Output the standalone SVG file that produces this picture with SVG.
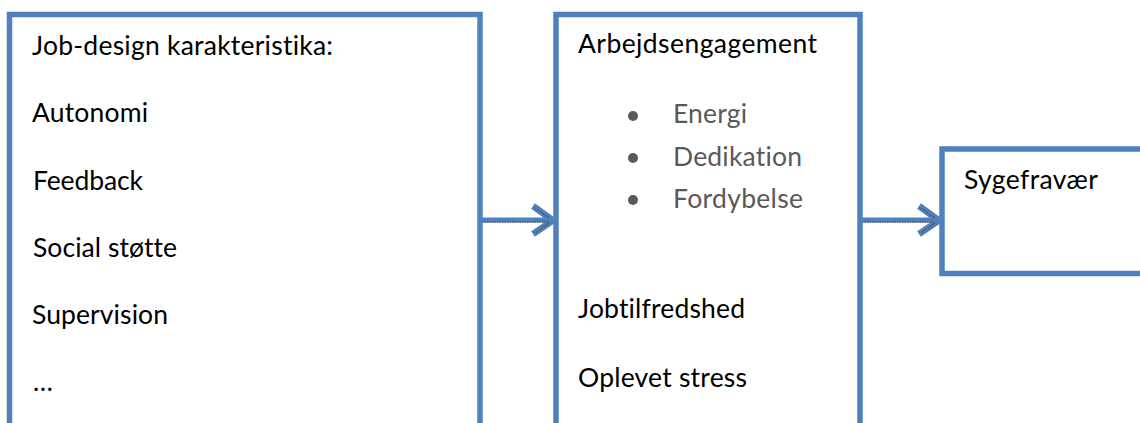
<svg xmlns="http://www.w3.org/2000/svg" width="1140" height="423" viewBox="0 0 1140 423">
<style>
.box{fill:#fff;stroke:#4F81BD;stroke-width:5.5}
.t{font-family:Lato,"Open Sans","Liberation Sans",sans-serif;font-size:26.5px;fill:#000;font-variant-ligatures:none;font-feature-settings:"liga" 0,"dlig" 0}
.g{fill:#595959}
.shaft{stroke:#4F81BD;stroke-width:5;fill:none}
.head{stroke:#4F81BD;stroke-width:6.5;fill:none;stroke-linejoin:miter;stroke-linecap:butt}
.tex{stroke:#555;stroke-width:1.5;stroke-dasharray:1.5 1;fill:none}
.dot{fill:#595959}
</style>
<rect width="1140" height="423" fill="#fff"/>
<g id="connectors">
  <line class="shaft" x1="482" y1="220" x2="550" y2="220"/>
  <polyline class="head" points="533,206 553,220.5 533,234"/>
  <line class="tex" x1="482" y1="222" x2="548" y2="222"/>
  <polyline class="tex" points="535,208 549,218"/>
  <polyline class="tex" points="549,223 535,233"/>
  <line class="shaft" x1="862" y1="220" x2="937" y2="220"/>
  <polyline class="head" points="919,206 939,220.5 919,234"/>
  <line class="tex" x1="862" y1="222" x2="934" y2="222"/>
  <polyline class="tex" points="921,208 935,218"/>
  <polyline class="tex" points="935,223 921,233"/>
</g>
<g id="node-jobdesign">
  <rect class="box" x="9.5" y="14.5" width="470.5" height="430"/>
  <text class="t" x="32" y="55" textLength="301">Job-design karakteristika:</text>
  <text class="t" x="32" y="122" textLength="116">Autonomi</text>
  <text class="t" x="33" y="190" textLength="110">Feedback</text>
  <text class="t" x="33" y="257" textLength="144">Social støtte</text>
  <text class="t" x="32" y="324" textLength="136">Supervision</text>
  <text class="t" x="33" y="391">…</text>
</g>
<g id="node-engagement">
  <rect class="box" x="556" y="14.5" width="304" height="430"/>
  <text class="t" x="578" y="53" textLength="239">Arbejdsengagement</text>
  <circle class="dot" cx="633" cy="116" r="5"/>
  <circle class="dot" cx="633" cy="158" r="5"/>
  <circle class="dot" cx="633" cy="200" r="5"/>
  <text class="t g" x="673" y="123" textLength="74">Energi</text>
  <text class="t g" x="673" y="166" textLength="129">Dedikation</text>
  <text class="t g" x="673" y="208" textLength="130">Fordybelse</text>
  <text class="t" x="578" y="318" textLength="167">Jobtilfredshed</text>
  <text class="t" x="578" y="387" textLength="169">Oplevet stress</text>
</g>
<g id="node-sygefravaer">
  <rect class="box" x="942" y="149" width="220" height="124.5"/>
  <text class="t" x="964" y="189" textLength="134">Sygefravær</text>
</g>
</svg>
